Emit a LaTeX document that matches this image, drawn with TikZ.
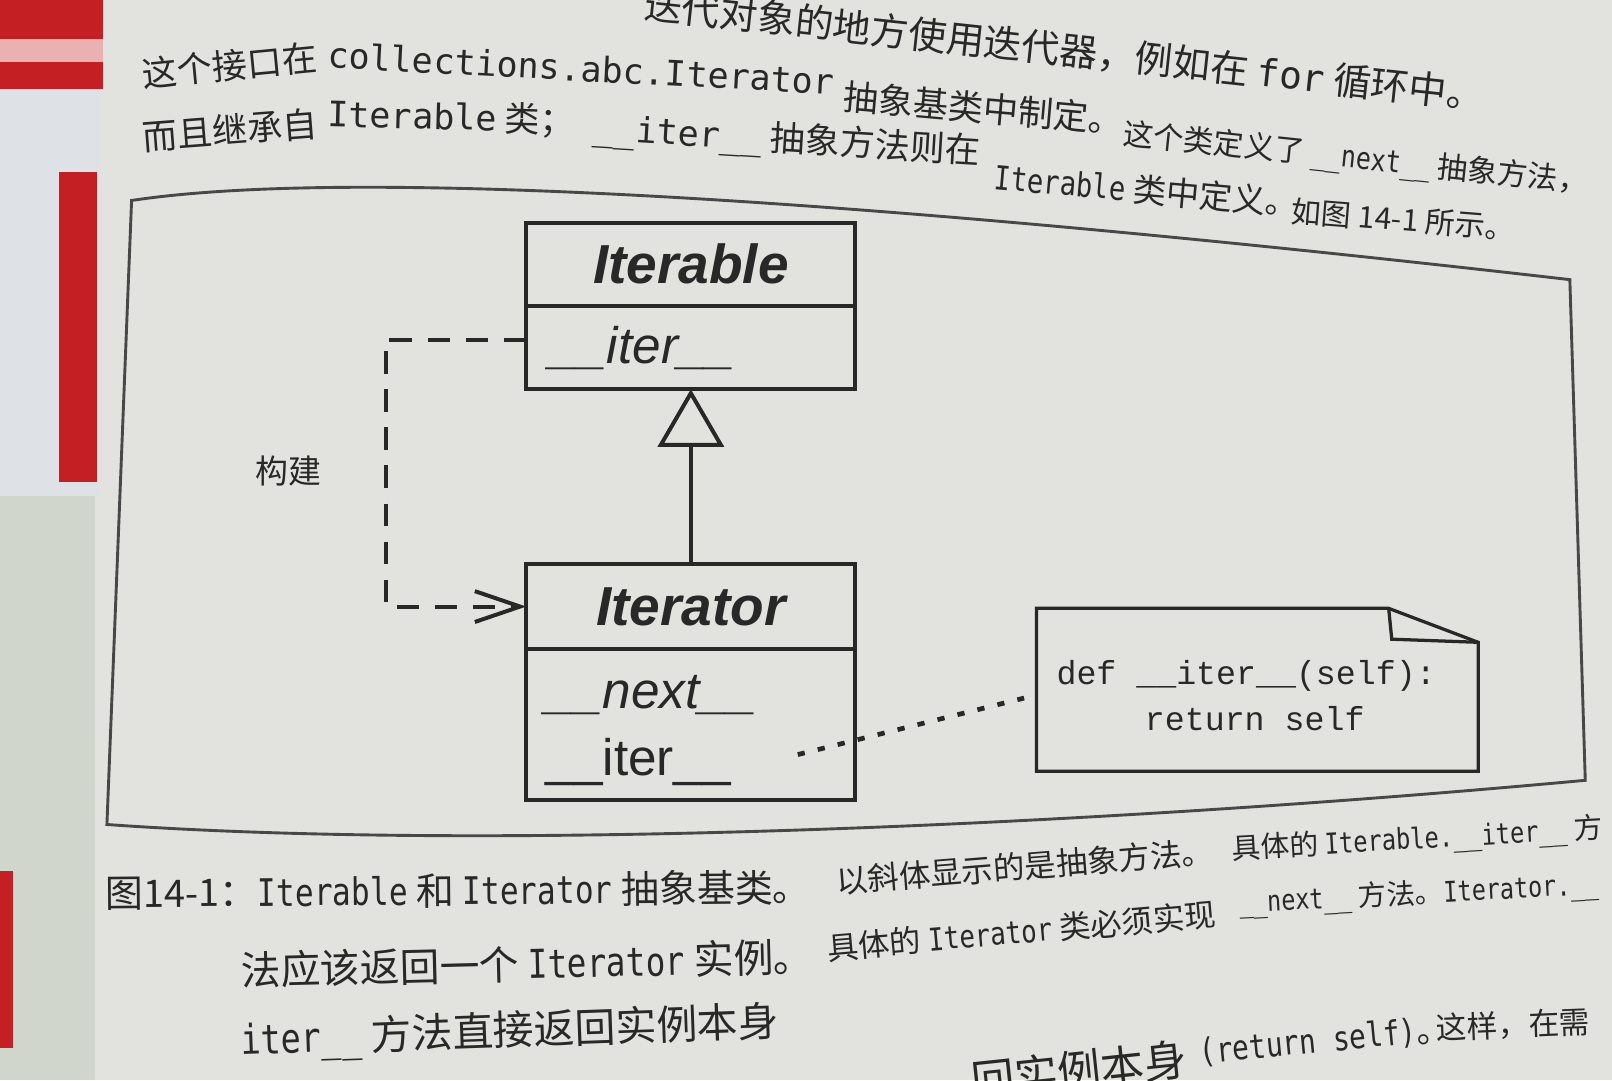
\documentclass[tikz,border=0pt]{standalone}
\usepackage{fontspec}
\setmainfont{Noto Sans CJK SC}
\newfontfamily\codefont{DejaVu Sans Mono}
\newfontfamily\capcode[FakeStretch=0.82]{DejaVu Sans Mono}
\newfontfamily\umlfont{Liberation Sans}
\newfontfamily\notefont{Liberation Mono}
\usetikzlibrary{arrows.meta, positioning}
\definecolor{paper}{RGB}{226,226,222}
\definecolor{ink}{RGB}{40,40,40}
\definecolor{penred}{RGB}{196,32,36}
\definecolor{pentube}{RGB}{222,226,230}
\definecolor{pentubelow}{RGB}{208,214,204}
\newcommand{\cd}[1]{{\codefont #1}}
\newcommand{\cc}[1]{{\capcode #1}}
\newcommand{\fs}[1]{\fontsize{#1}{#1}\selectfont}

\begin{document}
\begin{tikzpicture}[x=0.01cm, y=-0.01cm,
	txt/.style={anchor=base west, inner sep=0pt, text=ink, font=\fs{9.7}},
	classname/.style={draw=ink, line width=1.1pt, outer sep=0pt, inner sep=0pt, minimum width=3.2cm, text=ink, font=\umlfont\bfseries\itshape\fs{15.2}},
	classbody/.style={draw=ink, line width=1.1pt, outer sep=0pt, inner sep=0pt, minimum width=3.2cm},
	method/.style={anchor=base west, inner sep=0pt, text=ink, font=\umlfont\itshape\fs{14.2}},
	notetext/.style={anchor=base west, inner sep=0pt, text=ink, font=\notefont\fs{9.2}},
	build/.style={draw=ink, line width=1.1pt, dash pattern=on 0.22cm off 0.15cm, -{Straight Barb[length=4.4mm, width=3mm]}},
	notelink/.style={draw=ink, line width=1.3pt, dash pattern=on 0.07cm off 0.13cm}]
	\useasboundingbox (0,0) rectangle (1568,1051);
	\fill[paper] (0,0) rectangle (1568,1051);
	\fill[pentube] (0,0) rectangle (97,482);
	\fill[pentubelow] (0,482) rectangle (92,1051);
	\fill[penred] (0,0) rectangle (100,87);
	\fill[penred!35!white] (0,38) rectangle (100,60);
	\fill[penred] (57,167) rectangle (94,469);
	\fill[penred] (0,847) rectangle (13,1019);

	\node[txt, font=\fs{10.5}, rotate=-6.2] (line0) at (625,18) {迭代对象的地方使用迭代器，例如在 \cd{for} 循环中。};
	\node[txt, rotate=5.5] (line1a) at (139,85) {这个接口在};
	\node[txt, rotate=-3] (line1b) at (318,66) {\cd{collections.abc.Iterator}};
	\node[txt, rotate=-5] (line1c) at (819,106) {抽象基类中制定。};
	\node[txt, font=\fs{8.4}, rotate=-6] (line1d) at (1091,140) {这个类定义了 \cc{\_\_next\_\_} 抽象方法，};
	\node[txt, rotate=4.4] (line2a) at (139,146) {而且继承自};
	\node[txt, rotate=-1.5] (line2b) at (318,123) {\cd{Iterable} 类；};
	\node[txt, rotate=-3.5] (line2c) at (576,136) {\cd{\_\_iter\_\_} 抽象方法则在};
	\node[txt, font=\fs{9.2}, rotate=-5] (line2d) at (966,184) {\cc{Iterable} 类中定义。};
	\node[txt, font=\fs{8.3}, rotate=-4.5] (line2e) at (1255,216) {如图 14-1 所示。};

	\draw[ink!85, line width=0.8pt] (128,195) .. controls (360,160) and (900,200) .. (1527,272) -- (1542,759) .. controls (1100,800) and (500,830) .. (104,802) -- cycle;

	\node[classname, minimum height=0.81cm] (iterable) at (672,257) {Iterable};
	\node[classbody, minimum height=0.81cm, below=0pt of iterable] (iterablebody) {};
	\node[classname, minimum height=0.83cm] (iterator) at (672,590) {Iterator};
	\node[classbody, minimum height=1.47cm, below=0pt of iterator] (iteratorbody) {};
	\node[method] (iterableiter) at (534,354) {\_\_iter\_\_};
	\node[method] (iteratornext) at (530,689) {\_\_next\_\_};
	\node[method, font=\umlfont\fs{14.2}] (iteratoriter) at (530,754) {\_\_iter\_\_};
	\draw[ink, line width=1.1pt, -{Triangle[open, length=5.6mm, width=6.4mm]}] (iterator) -- (iterablebody);

	\coordinate (bend) at (375,458);
	\draw[build] ([yshift=0.075cm]iterablebody.west) -| (bend) |- (iterator.west);
	\node[font=\fs{9.1}, text=ink, left=0.5cm of bend] (buildlabel) {构建};

	\node[minimum width=4.28cm, minimum height=1.57cm, inner sep=0pt] (note) at (1223,671) {};
	\draw[ink, line width=0.9pt] (note.north west) -- ([xshift=-0.87cm]note.north east) -- ([yshift=-0.33cm]note.north east) -- (note.south east) -- (note.south west) -- cycle;
	\draw[ink, line width=0.9pt] ([xshift=-0.87cm]note.north east) -- ++(3,30) -- ([yshift=-0.33cm]note.north east);
	\node[notetext] (notedef) at (1027,666) {def \_\_iter\_\_(self):};
	\node[notetext] (noteret) at (1113,711) {return self};
	\coordinate (iterdot) at (776,734);
	\draw[notelink] (iterdot) -- ([xshift=-0.12cm, yshift=-0.08cm]note.west);

	\node[txt, font=\fs{10.5}, rotate=0.5] (cap1a) at (102,883) {图14-1：\cc{Iterable} 和 \cc{Iterator} 抽象基类。};
	\node[txt, font=\fs{8.7}, rotate=4.6] (cap1b) at (814,869) {以斜体显示的是抽象方法。};
	\node[txt, font=\fs{8}, rotate=3.3] (cap1c) at (1198,836) {具体的 \cc{Iterable.\_\_iter\_\_} 方};
	\node[txt, font=\fs{11}, rotate=1.4] (cap2a) at (234,959) {法应该返回一个 \cc{Iterator} 实例。};
	\node[txt, font=\fs{8.7}, rotate=5] (cap2b) at (805,934) {具体的 \cc{Iterator} 类必须实现};
	\node[txt, font=\fs{7.9}, rotate=3] (cap2c) at (1205,888) {\cc{\_\_next\_\_} 方法。\cc{Iterator.\_\_}};
	\node[txt, font=\fs{11.3}, rotate=2] (cap3) at (234,1026) {\cc{iter\_\_} 方法直接返回实例本身};
	\node[txt, font=\fs{12}, rotate=6] (cap4a) at (946,1068) {回实例本身};
	\node[txt, font=\fs{9.4}, rotate=5.5] (cap4b) at (1167,1035) {\cc{(return self)}。};
	\node[txt, font=\fs{8.5}, rotate=2.3] (cap4c) at (1397,1011) {这样，在需};
\end{tikzpicture}
\end{document}
